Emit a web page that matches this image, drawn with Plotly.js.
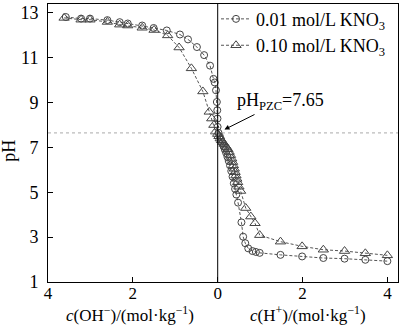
<!DOCTYPE html>
<html>
<head>
<meta charset="utf-8">
<script src="https://cdn.plot.ly/plotly-3.0.1.min.js"></script>
<style>html,body{margin:0;padding:0;background:#fff;}#chart{width:400px;height:326px;}</style>
</head>
<body>
<div id="chart"></div>
<script>
// 0.01 mol/L KNO3 — left side: c(OH-), right side: c(H+)
var ohC1  = [3.58,3.22,3.01,2.60,2.31,2.12,1.78,1.51,1.20,0.89,0.70,0.49,0.32,0.18,0.10,0.07,0.04,0.02,0.01,0.005,0.002];
var ohPH1 = [12.82,12.75,12.75,12.68,12.59,12.53,12.44,12.33,12.22,12.04,11.82,11.48,11.12,10.65,10.06,9.90,9.55,9.03,8.66,8.29,7.92];
var hC1   = [0.02,0.05,0.08,0.11,0.14,0.17,0.20,0.23,0.26,0.29,0.32,0.35,0.38,0.41,0.44,0.48,0.56,0.60,0.65,0.72,0.82,0.90,0.99,1.48,1.99,2.49,2.99,3.48,4.00];
var hPH1  = [7.65,7.50,7.35,7.20,7.05,6.90,6.75,6.58,6.40,6.20,5.95,5.70,5.40,5.15,4.90,4.54,3.66,3.02,2.73,2.50,2.38,2.34,2.30,2.21,2.14,2.07,2.04,1.99,1.93];

// 0.10 mol/L KNO3
var ohC2  = [3.62,3.22,3.01,2.60,2.31,2.12,1.78,1.50,1.18,0.91,0.62,0.35,0.20,0.14,0.09,0.05];
var ohPH2 = [12.78,12.70,12.70,12.60,12.48,12.44,12.34,12.24,12.00,11.46,10.53,9.50,8.59,8.29,8.00,7.71];
var hC2   = [0.00,0.03,0.06,0.09,0.12,0.15,0.18,0.21,0.24,0.27,0.30,0.33,0.35,0.37,0.39,0.41,0.43,0.45,0.47,0.50,0.54,0.66,0.78,0.88,0.99,1.48,1.99,2.49,2.99,3.48,4.00];
var hPH2  = [7.60,7.50,7.40,7.32,7.24,7.16,7.08,7.00,6.92,6.80,6.66,6.50,6.35,6.20,6.05,5.90,5.75,5.60,5.45,5.25,5.06,4.30,3.92,3.62,3.09,2.80,2.59,2.44,2.38,2.28,2.19];

var seriesNames = ['0.01 mol/L KNO<sub>3</sub>', '0.10 mol/L KNO<sub>3</sub>'];
var tickVals = [-4,-2,0,2,4];
var tickText = ['4','2','0','2','4'];
var pHzc = 7.65;

var FONT = 'Liberation Serif, Times New Roman, serif';

function xs(oh, h){ return oh.map(function(v){return -v;}).concat(h); }

var traces = [
  {x: xs(ohC1,hC1), y: ohPH1.concat(hPH1), name: seriesNames[0], mode:'lines+markers',
   line:{color:'#555', width:1, dash:'3px,2px'},
   marker:{symbol:'circle-open', size:7, color:'#444', line:{width:1, color:'#444'}}},
  {x: xs(ohC2,hC2), y: ohPH2.concat(hPH2), name: seriesNames[1], mode:'lines+markers',
   line:{color:'#555', width:1, dash:'3px,2px'},
   marker:{symbol:'triangle-up-open', size:9, color:'#444', line:{width:1, color:'#444'}}}
];

var layout = {
  width:400, height:326,
  margin:{l:48, r:2, t:1, b:44},
  paper_bgcolor:'#fff', plot_bgcolor:'#fff',
  font:{family:FONT, size:18, color:'#000'},
  showlegend:true,
  legend:{x:0.48, y:1.012, xanchor:'left', yanchor:'top', bgcolor:'rgba(0,0,0,0)',
          font:{family:FONT, size:18, color:'#000'}, tracegroupgap:0, itemwidth:30},
  xaxis:{range:[-4,4.25], tickvals:tickVals, ticktext:tickText, ticks:'inside', ticklen:5,
         tickcolor:'#000', showline:true, linecolor:'#000', linewidth:1, mirror:true,
         showgrid:false, zeroline:false, tickfont:{family:FONT, size:17}, ticklabelstandoff:-4},
  yaxis:{range:[1,13.4], tickvals:[1,3,5,7,9,11,13], ticks:'inside', ticklen:5,
         tickcolor:'#000', showline:true, linecolor:'#000', linewidth:1, mirror:true,
         showgrid:false, zeroline:false, tickfont:{family:FONT, size:18}, ticklabelstandoff:5},
  shapes:[
    {type:'line', xref:'paper', x0:0, x1:1, yref:'y', y0:pHzc, y1:pHzc,
     line:{color:'#aaa', width:1, dash:'dot'}},
    {type:'line', xref:'x', x0:0, x1:0, yref:'paper', y0:0, y1:1,
     line:{color:'#000', width:1}}
  ],
  annotations:[
    {xref:'x', yref:'y', x:0.16, y:7.8, ax:1.48, ay:9.05, axref:'x', ayref:'y',
     text:'pH<sub>PZC</sub>=7.65', showarrow:true, arrowhead:2, arrowsize:1, arrowwidth:1,
     arrowcolor:'#000', font:{family:FONT, size:18, color:'#000'}},
    {xref:'paper', yref:'paper', x:-0.11, y:0.47, xanchor:'center', yanchor:'middle',
     text:'pH', textangle:-90, showarrow:false,
     font:{family:FONT, size:18, color:'#000'}},
    {xref:'x', yref:'paper', x:-2.06, y:0, yanchor:'top', yshift:-20, borderpad:0, showarrow:false,
     text:'<i>c</i>(OH<sup>−</sup>)/(mol·kg<sup>−1</sup>)', font:{family:FONT, size:17, color:'#000'}},
    {xref:'x', yref:'paper', x:2.14, y:0, yanchor:'top', yshift:-20, borderpad:0, showarrow:false,
     text:'<i>c</i>(H<sup>+</sup>)/(mol·kg<sup>−1</sup>)', font:{family:FONT, size:17, color:'#000'}}
  ]
};

Plotly.newPlot('chart', traces, layout, {displayModeBar:false, staticPlot:true});
</script>
</body>
</html>
